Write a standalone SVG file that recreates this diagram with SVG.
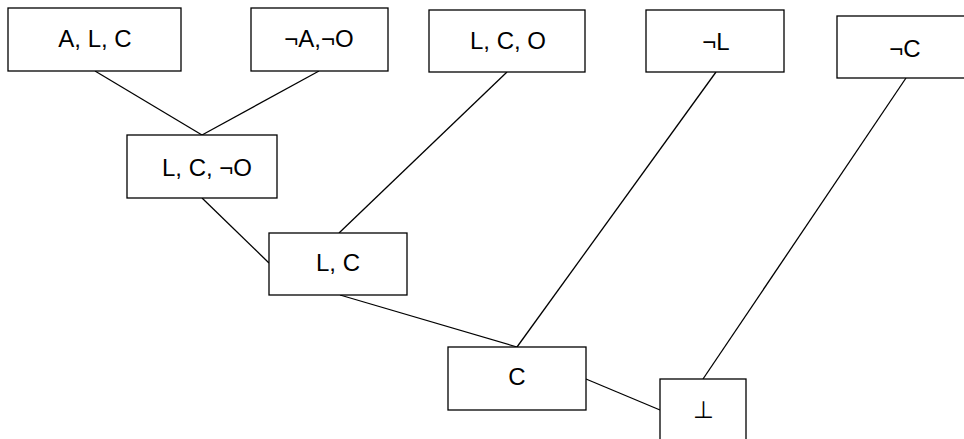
<svg xmlns="http://www.w3.org/2000/svg" width="964" height="439" viewBox="0 0 964 439">
<style>
.box{fill:#fff;stroke:#000;stroke-width:1.3}
.lbl{font-family:"Liberation Sans",Arial,sans-serif;font-size:24px;fill:#000;text-anchor:middle}
.edge{stroke:#000;stroke-width:1.3;fill:none}
</style>
<rect width="964" height="439" fill="#fff"/>
<g id="connectors">
<line class="edge" x1="95" y1="71" x2="202" y2="135"/>
<line class="edge" x1="319" y1="71" x2="202" y2="135"/>
<line class="edge" x1="202" y1="198" x2="269" y2="263"/>
<line class="edge" x1="507" y1="72" x2="339" y2="233"/>
<line class="edge" x1="340" y1="295" x2="517" y2="347"/>
<line class="edge" x1="716" y1="72" x2="517" y2="347"/>
<line class="edge" x1="586" y1="379" x2="660" y2="410"/>
<line class="edge" x1="906" y1="78" x2="703" y2="379"/>
</g>
<g id="n1"><rect class="box" x="8" y="8" width="173" height="63"/><text class="lbl" x="95" y="47">A, L, C</text></g>
<g id="n2"><rect class="box" x="251" y="8" width="137" height="63"/><text class="lbl" x="319" y="47">¬A,¬O</text></g>
<g id="n3"><rect class="box" x="429" y="10" width="156" height="62"/><text class="lbl" x="508" y="49">L, C, O</text></g>
<g id="n4"><rect class="box" x="646" y="10" width="138" height="62"/><text class="lbl" x="716" y="50">¬L</text></g>
<g id="n5"><rect class="box" x="837" y="16" width="140" height="62"/><text class="lbl" x="905" y="57">¬C</text></g>
<g id="n6"><rect class="box" x="127" y="135" width="150" height="63"/><text class="lbl" x="207" y="176">L, C, ¬O</text></g>
<g id="n7"><rect class="box" x="269" y="233" width="138" height="62"/><text class="lbl" x="338" y="271">L, C</text></g>
<g id="n8"><rect class="box" x="448" y="347" width="138" height="63"/><text class="lbl" x="517" y="385">C</text></g>
<g id="n9"><rect class="box" x="660" y="379" width="86" height="64"/><text class="lbl" x="703" y="418">⊥</text></g>
</svg>
